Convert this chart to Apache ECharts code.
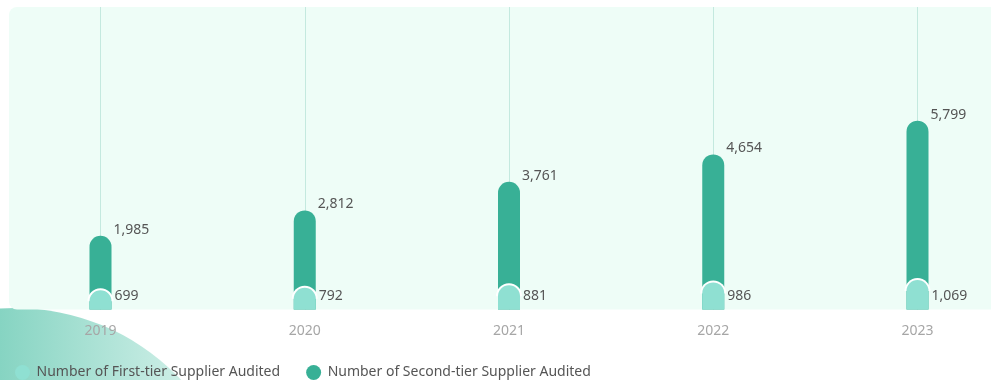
<!DOCTYPE html>
<html>
<head>
<meta charset="utf-8">
<style>
  html, body { margin: 0; padding: 0; background: #ffffff; }
  #chart { width: 991px; height: 380px; }
</style>
<script src="https://cdn.jsdelivr.net/npm/echarts@6/dist/echarts.min.js"></script>
</head>
<body>
<div id="chart"></div>
<script>
// Supplier audits per year
const years = ['2019', '2020', '2021', '2022', '2023'];
const firstTier = [699, 792, 881, 986, 1069];
const secondTier = [1985, 2812, 3761, 4654, 5799];
const seriesNames = ['Number of First-tier Supplier Audited', 'Number of Second-tier Supplier Audited'];

const FONT = 'Noto Sans';
const LIGHT = '#8fe0d2';
const DARK = '#38b096';
const fmt = v => v.toLocaleString('en-US');

// second tier sits on top of the first tier, so its bar reaches the running total
const stackedTop = years.map((_, i) => firstTier[i] + secondTier[i]);

const chart = echarts.init(document.getElementById('chart'), null, { renderer: 'canvas' });

chart.setOption({
  animation: false,
  backgroundColor: '#ffffff',
  textStyle: { fontFamily: FONT },
  graphic: {
    elements: [
      {
        type: 'circle',
        z: -20,
        shape: { cx: 15, cy: 536, r: 228 },
        style: {
          fill: {
            type: 'linear', x: 0, y: 0, x2: 200, y2: 0, global: true,
            colorStops: [
              { offset: 0, color: '#86d4c2' },
              { offset: 1, color: '#d4f1ea' }
            ]
          }
        }
      },
      {
        type: 'rect',
        z: -10,
        shape: { x: 9, y: 7, width: 1000, height: 302.5, r: 8 },
        style: { fill: '#eefdf7' }
      }
    ]
  },
  legend: {
    data: seriesNames,
    left: 10,
    top: 360,
    icon: 'circle',
    itemWidth: 18,
    itemHeight: 15,
    itemGap: 26,
    textStyle: { fontFamily: FONT, fontSize: 14, color: '#555555' }
  },
  grid: { left: 100.5, right: 73.5, top: 7, bottom: 70.5 },
  xAxis: {
    type: 'category',
    data: years,
    boundaryGap: false,
    axisLine: { show: false },
    axisTick: { show: false },
    axisLabel: { interval: 0, margin: 15, color: '#a6a6a6', fontSize: 14, fontFamily: FONT },
    splitLine: { show: true, interval: 0, lineStyle: { color: '#c4e9df', width: 1 } }
  },
  yAxis: {
    type: 'value',
    min: 0,
    max: 11000,
    show: false,
    splitLine: { show: false }
  },
  series: [
    {
      name: seriesNames[0],
      type: 'bar',
      z: 6,
      barWidth: 22,
      barGap: '-100%',
      data: firstTier,
      itemStyle: { color: LIGHT, borderRadius: [11, 11, 0, 0] },
      label: {
        show: true,
        position: ['100%', '100%'],
        offset: [3, -13],
        align: 'left',
        verticalAlign: 'middle',
        color: '#555555',
        fontSize: 14,
        fontFamily: FONT,
        formatter: p => fmt(firstTier[p.dataIndex])
      }
    },
    {
      name: seriesNames[1],
      type: 'bar',
      z: 2,
      barWidth: 22,
      barGap: '-100%',
      data: stackedTop,
      itemStyle: { color: DARK, borderRadius: [11, 11, 0, 0] },
      label: {
        show: true,
        position: ['100%', 0],
        offset: [2, -6],
        align: 'left',
        verticalAlign: 'middle',
        color: '#555555',
        fontSize: 14,
        fontFamily: FONT,
        formatter: p => fmt(secondTier[p.dataIndex])
      }
    },
    {
      // white rim around the rounded top of the first-tier bars
      name: 'rim',
      type: 'pictorialBar',
      z: 4,
      silent: true,
      data: firstTier,
      symbol: 'path://M0,10 A10,10 0 0 1 20,10 Z',
      symbolSize: [26, 13],
      symbolPosition: 'end',
      symbolOffset: [0, -2],
      itemStyle: { color: '#ffffff' },
      label: { show: false }
    }
  ]
});
</script>
</body>
</html>
